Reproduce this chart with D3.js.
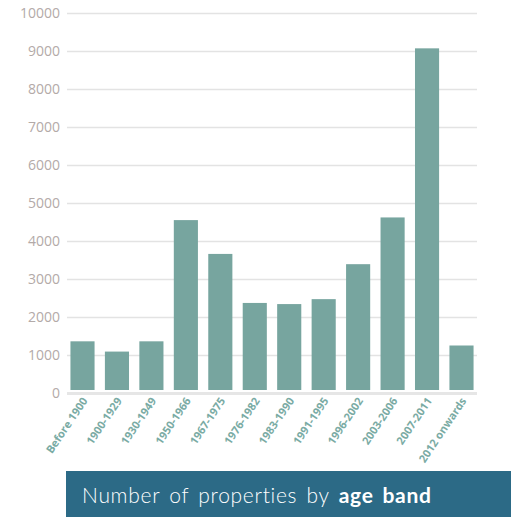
<!DOCTYPE html>
<html>
	<head>
		<meta charset="utf-8" />
		<title>Number of properties by age band</title>
		<script src="https://d3js.org/d3.v7.min.js"></script>
		<style>
			body {
				margin: 0;
				background: #fff;
			}
			svg {
				display: block;
			}
			.ylab {
				font-family: "Open Sans", sans-serif;
				font-size: 14px;
				fill: #b3aaa8;
			}
			.xlab {
				font-family: "Open Sans", sans-serif;
				font-size: 11px;
				font-weight: bold;
				fill: #7aaba4;
			}
		</style>
	</head>
	<body>
		<div id="holder"></div>
		<script>
			//Data
			const bands = ["Before 1900", "1900-1929", "1930-1949", "1950-1966", "1967-1975", "1976-1982",
				"1983-1990", "1991-1995", "1996-2002", "2003-2006", "2007-2011", "2012 onwards"];
			const counts = [1360, 1090, 1360, 4550, 3660, 2370, 2340, 2470, 3390, 4620, 9070, 1250];
			const yTicks = [0, 1000, 2000, 3000, 4000, 5000, 6000, 7000, 8000, 9000, 10000];
			const titleParts = ["Number of properties by ", "age band"];

			//Variables
			const w = 511;
			const h = 517;
			const mLeft = 67, mRight = 477;
			const mTop = 13, mBottom = 393;

			let svg = d3.select("#holder")
				.append("svg")
				.attr("width", w)
				.attr("height", h);

			let xScale = d3.scaleBand()
				.domain(bands)
				.range([mLeft, mRight])
				.paddingInner(0.3)
				.paddingOuter(0.1);

			let yScale = d3.scaleLinear()
				.domain([0, 10000])
				.range([mBottom, mTop]);

			//Gridlines + y labels
			const yAxis = d3.axisLeft(yScale)
				.tickValues(yTicks)
				.tickSize(-(mRight - mLeft))
				.tickPadding(7)
				.tickFormat(d3.format("d"));

			let yG = svg.append("g")
				.attr("transform", "translate(" + mLeft + ",0)")
				.call(yAxis);
			yG.select(".domain").remove();
			yG.selectAll(".tick line")
				.attr("stroke", "#e3e3e3")
				.attr("stroke-width", 1.5);
			yG.selectAll(".tick text")
				.attr("class", "ylab")
				.attr("font-family", null)
				.attr("font-size", null)
				.attr("fill", null)
				.attr("dy", "0.35em");
			yG.select(".tick:first-of-type line").remove();

			//Bars
			svg.selectAll("rect.bar")
				.data(counts)
				.enter()
				.append("rect")
				.attr("class", "bar")
				.attr("x", (d, i) => xScale(bands[i]))
				.attr("y", d => yScale(d))
				.attr("width", xScale.bandwidth())
				.attr("height", d => yScale(0) - 3 - yScale(d))
				.attr("fill", "#77a59f");

			//Baseline
			svg.append("line")
				.attr("x1", mLeft)
				.attr("x2", mRight)
				.attr("y1", yScale(0) + 0.5)
				.attr("y2", yScale(0) + 0.5)
				.attr("stroke", "#e6e6e6")
				.attr("stroke-width", 3);

			//X labels
			const xAxis = d3.axisBottom(xScale).tickSize(0).tickPadding(0);
			let xG = svg.append("g")
				.attr("transform", "translate(0," + (yScale(0) + 9) + ")")
				.call(xAxis);
			xG.select(".domain").remove();
			xG.selectAll(".tick text")
				.attr("class", "xlab")
				.attr("font-family", null)
				.attr("font-size", null)
				.attr("fill", null)
				.attr("text-anchor", "end")
				.attr("x", 4)
				.attr("y", 0)
				.attr("dy", "0.35em")
				.attr("transform", "rotate(-56)");

			//Title banner
			svg.append("rect")
				.attr("x", 66)
				.attr("y", 471)
				.attr("width", w - 66)
				.attr("height", h - 471)
				.attr("fill", "#2c6a86");

			let title = svg.append("text")
				.attr("x", 82)
				.attr("y", 503)
				.attr("fill", "#fff")
				.style("font-family", "Lato, sans-serif")
				.style("font-size", "21px")
				.style("letter-spacing", "0.7px")
				.style("word-spacing", "3px");
			title.append("tspan")
				.style("font-weight", 300)
				.text(titleParts[0]);
			title.append("tspan")
				.style("font-weight", "bold")
				.text(titleParts[1]);
		</script>
	</body>
</html>
